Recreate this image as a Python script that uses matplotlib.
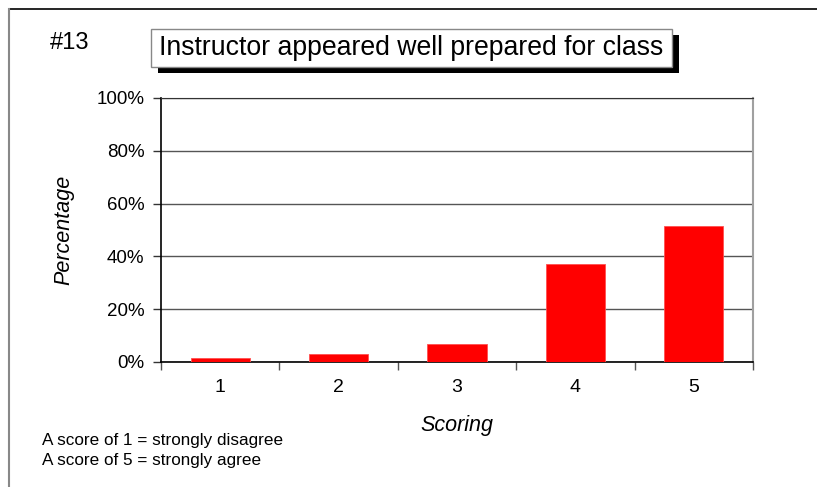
import numpy as np
import matplotlib.pyplot as plt
from matplotlib.lines import Line2D
from matplotlib.patches import Rectangle

# Data
scores = [1, 2, 3, 4, 5]
percentages = [1.4, 2.9, 6.7, 37.1, 51.5]
y_ticks = [0, 20, 40, 60, 80, 100]
y_tick_labels = ['0%', '20%', '40%', '60%', '80%', '100%']

TITLE = 'Instructor appeared well prepared for class'
NUMBER = '#13'
NOTES = ['A score of 1 = strongly disagree', 'A score of 5 = strongly agree']

plt.rcParams['font.family'] = ['Liberation Sans', 'DejaVu Sans']

W, H = 817, 487
fig = plt.figure(figsize=(W / 100, H / 100), dpi=100)
fig.patch.set_facecolor('white')

# Axes placed in pixel terms
left, right, top, bottom = 161, 753, 98, 362
ax = fig.add_axes([left / W, 1 - bottom / H, (right - left) / W, (bottom - top) / H])

x = np.arange(len(scores))
ax.bar(x, percentages, width=0.5, color='#ff0000', edgecolor='#ff5050', linewidth=0.6, zorder=3)
ax.set_xlim(-0.5, len(scores) - 0.5)
ax.set_ylim(0, 100)

ax.set_yticks(y_ticks)
ax.set_yticklabels(y_tick_labels, fontsize=13.5)
ax.yaxis.grid(True, color='#555555', linewidth=1.0, zorder=1)
ax.set_axisbelow(True)

# category labels centred, ticks on the boundaries
ax.set_xticks(x)
ax.set_xticklabels([str(s) for s in scores], fontsize=14)
ax.tick_params(axis='x', length=0, pad=12)
ax.set_xticks(np.arange(-0.5, len(scores)), minor=True)
ax.tick_params(axis='x', which='minor', length=6, color='#555555', width=1)
ax.tick_params(axis='y', length=6, width=1, color='#333333', pad=6)

for side in ['left', 'bottom']:
    ax.spines[side].set_color('black')
    ax.spines[side].set_linewidth(1.2)
ax.spines['top'].set_color('#333333')
ax.spines['right'].set_color('#a0a0a0')
ax.spines['right'].set_linewidth(1.5)

ax.set_xlabel('Scoring', fontsize=15.5, style='italic', labelpad=14)
ax.set_ylabel('Percentage', fontsize=15.5, style='italic', labelpad=16)

# outer frame lines (top and left)
fig.add_artist(Line2D([9 / W, 1], [1 - 9 / H, 1 - 9 / H], color='black', linewidth=1.2))
fig.add_artist(Line2D([9 / W, 9 / W], [0, 1 - 9 / H], color='#888888', linewidth=1.5))

# number label
fig.text(50 / W, 1 - 43 / H, NUMBER, fontsize=17, ha='left', va='center')

# title box with shadow
bx0, by0, bx1, by1 = 151, 29, 672, 67
fig.add_artist(Rectangle(((bx0 + 7) / W, 1 - (by1 + 6) / H), (bx1 - bx0) / W, (by1 - by0) / H,
                         transform=fig.transFigure, facecolor='black', edgecolor='none'))
fig.add_artist(Rectangle((bx0 / W, 1 - by1 / H), (bx1 - bx0) / W, (by1 - by0) / H,
                         transform=fig.transFigure, facecolor='white', edgecolor='#888888', linewidth=1))
fig.text((bx0 + bx1) / 2 / W, 1 - (by0 + by1) / 2 / H, TITLE, fontsize=19.2, ha='center', va='center')

# footnotes
fig.text(42 / W, 1 - 441 / H, NOTES[0], fontsize=12.3, ha='left', va='center')
fig.text(42 / W, 1 - 461 / H, NOTES[1], fontsize=12.3, ha='left', va='center')

fig.savefig('out.png', dpi=100, facecolor='white')
